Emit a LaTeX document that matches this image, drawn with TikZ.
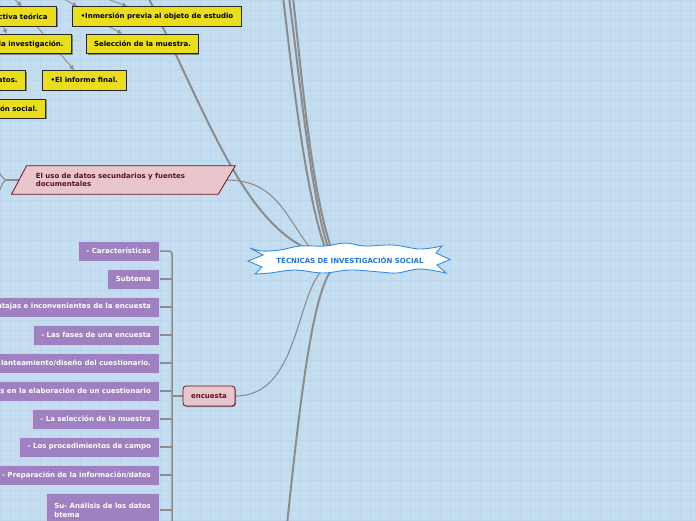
\documentclass[tikz,border=0pt]{standalone}
\usepackage{fontspec}
\setmainfont{DejaVu Sans}
\usetikzlibrary{arrows.meta,shadows,calc}
\pgfdeclarelayer{back}
\pgfdeclarelayer{lines}
\pgfdeclarelayer{shapes}
\pgfsetlayers{back,lines,shapes,main}
\definecolor{bgc}{RGB}{196,222,240}
\definecolor{gridc}{RGB}{188,215,236}
\definecolor{conn}{RGB}{140,140,140}
\definecolor{yfill}{RGB}{233,221,28}
\definecolor{pfill}{RGB}{159,128,192}
\definecolor{pborder}{RGB}{214,204,228}
\definecolor{kfill}{RGB}{232,198,204}
\definecolor{kborder}{RGB}{110,16,32}
\definecolor{ktext}{RGB}{92,16,32}
\definecolor{cblue}{RGB}{30,120,220}
\definecolor{sblue}{RGB}{50,140,230}
\tikzset{
  ft/.style={font=\fontsize{7}{8.5}\selectfont\bfseries},
  ybox/.style={ft, draw=black!85, line width=0.8pt, fill=yfill, text=black,
    minimum height=19.5pt, inner ysep=0pt,
    drop shadow={shadow xshift=1pt, shadow yshift=-1pt, opacity=0.6, fill=black!70}},
  pbox/.style={ft, draw=pborder, line width=0.8pt, fill=pfill, text=white,
    minimum height=20pt, inner xsep=8pt, inner ysep=0pt, anchor=east,
    drop shadow={shadow xshift=1pt, shadow yshift=-1pt, opacity=0.35, fill=black}},
  kbox/.style={ft, draw=kborder, fill=kfill, text=ktext, line width=0.8pt},
  tconn/.style={draw=conn, line width=2pt},
  nconn/.style={draw=conn, line width=1.1pt},
  arr/.style={draw=conn, line width=0.9pt, -{Latex[length=5pt,width=5pt]}},
  br/.style={draw=conn, line width=1.5pt},
}
\begin{document}
\begin{tikzpicture}[x=1pt, y=-1pt]
\useasboundingbox (0,0) rectangle (696,520);
\clip (0,0) rectangle (696,520);
\begin{pgfonlayer}{back}
  \fill[bgc] (0,0) rectangle (696,520);
  \foreach \i in {0,10,...,690} \draw[draw=gridc, line width=0.6pt] (\i,0) -- (\i,520);
  \foreach \j in {0,10,...,520} \draw[draw=gridc, line width=0.6pt] (0,\j) -- (696,\j);
\end{pgfonlayer}

% central node
\node[ft, text=cblue, minimum width=200pt, minimum height=30pt, inner sep=0pt] (c) at (350,260) {TÉCNICAS DE INVESTIGACIÓN SOCIAL};
\begin{pgfonlayer}{shapes}
  \draw[draw=sblue, line width=0.9pt, fill=white]
    (250,248) -- plot[smooth, tension=0.6] coordinates {(250,248) (262,251) (280,250) (300,246) (325,246) (345,243) (365,246) (393,245) (420,249) (442,246)}
    -- (436,253) -- (450,259.5) -- (437,265) -- (446,273)
    -- plot[smooth, tension=0.6] coordinates {(446,273) (420,269) (397,273) (380,272) (350,270) (323,273) (295,270) (270,273) (255,274)}
    -- (262,267) -- (248,261) -- (263,255) -- cycle;
\end{pgfonlayer}

% yellow boxes
\node[ybox, anchor=east, inner xsep=9pt] (ya) at (57,16.5) {ctiva teórica};
\node[ybox, minimum width=168.3pt] (yb) at (157,16.5) {•Inmersión previa al objeto de estudio};
\node[ybox, anchor=east, inner xsep=8pt] (yc) at (72,44) {la investigación.};
\node[ybox, minimum width=111.6pt] (yd) at (142.5,44) {Selección de la muestra.};
\node[ybox, anchor=east, inner xsep=8pt] (ye) at (26,80.3) {atos.};
\node[ybox, minimum width=83.3pt] (yf) at (84.3,80.3) {•El informe final.};
\node[ybox, anchor=east, inner xsep=8pt] (yg) at (46,108.7) {ión social.};

% pink parallelogram
\node[ft, text=ktext, minimum width=223.3pt, minimum height=28pt, text width=175pt, align=left, inner sep=0pt] (p) at (123.4,180) {El uso de datos secundarios y fuentes\\documentales};
\begin{pgfonlayer}{shapes}
  \draw[kbox] (p.south west) -- ($(p.north west)+(15,0)$) -- (p.north east) -- ($(p.south east)+(-17,0)$) -- cycle;
\end{pgfonlayer}

% encuesta
\node[kbox, rounded corners=3pt, minimum width=52pt, minimum height=20pt, inner sep=0pt,
  drop shadow={shadow xshift=1pt, shadow yshift=-1pt, opacity=0.4, fill=black}] (e) at (209,396) {encuesta};

% purple boxes
\node[pbox] (p1) at (159.3,251) {- Características};
\node[pbox] (p2) at (159.3,279) {Subtema};
\node[pbox] (p3) at (159.3,307) {ntajas e inconvenientes de la encuesta};
\node[pbox] (p4) at (159.3,335) {- Las fases de una encuesta};
\node[pbox] (p5) at (159.3,363) {lanteamiento/diseño del cuestionario.};
\node[pbox] (p6) at (159.3,391) {es en la elaboración de un cuestionario};
\node[pbox] (p7) at (159.3,419) {- La selección de la muestra};
\node[pbox] (p8) at (159.3,447) {- Los procedimientos de campo};
\node[pbox] (p9) at (159.3,475) {- Preparación de la información/datos};
\node[pbox, minimum height=34pt, align=left] (p10) at (159.3,510) {Su- Análisis de los datos\\btema};

% named free ends
\coordinate (t1) at (283,-3);
\coordinate (t2) at (289,-3);
\coordinate (t3) at (293,-3);
\coordinate (t4) at (147,-5);
\coordinate (t5) at (287,525);
\coordinate (o1) at (12,-3);
\coordinate (o2) at (60,-3);
\coordinate (o3) at (102,-3);
\coordinate (pj) at (7,180);
\coordinate (l1) at (-1,172);
\coordinate (l2) at (-1,192);
\coordinate (vb) at (172,0);
\coordinate (vbe) at (172,530);

\begin{pgfonlayer}{lines}
  % to the centre
  \draw[tconn] (t1) .. controls (293,80) and (305,190) .. ($(c.north)+(-25,3)$);
  \draw[tconn] (t2) .. controls (300,80) and (310,190) .. ($(c.north)+(-22,3)$);
  \draw[tconn] (t3) .. controls (303,90) and (312,190) .. ($(c.north)+(-19,3)$);
  \draw[tconn] (t4) .. controls (205,110) and (240,215) .. ($(c.north)+(-45,3)$);
  \draw[nconn] ($(p.east)+(-8.5,0)$) .. controls (275,180) and (285,215) .. ($(c.north)+(-40,3)$);
  \draw[nconn] (e.east) .. controls (298,396) and (295,300) .. ($(c.south)+(-28,-5)$);
  \draw[tconn] ($(c.south)+(-20,-3)$) .. controls (312,300) and (300,400) .. (t5);
  % yellow arrows
  \draw[arr] (o1) -- ($(ya.north east)+(-35,0)$);
  \draw[arr] (o2) -- ($(yb.north west)+(5,0)$);
  \draw[arr] (o3) -- ($(yb.north west)+(55,0)$);
  \draw[arr] ($(ya.south east)+(-54,0)$) -- ($(yc.north east)+(-65,0)$);
  \draw[arr] ($(yb.south west)+(37,0)$) -- ($(yd.north west)+(36,0)$);
  \draw[arr] ($(ya.south east)+(-20,0)$) -- ($(yf.north west)+(32,0)$);
  % left branch of the parallelogram
  \draw[nconn] ($(p.west)+(7.5,0)$) -- (pj);
  \draw[nconn] (pj) .. controls (4,180) and (2,177) .. (l1);
  \draw[nconn] (pj) .. controls (4,180) and (2,184) .. (l2);
  % bracket
  \draw[br, rounded corners=3pt] (p1.east) -| (vbe);
  \foreach \n in {p2,p3,p4,p5,p6,p7,p8,p9,p10} \draw[br] (\n.east) -- (\n.east -| vb);
  \draw[br] (e.west) -- (e.west -| vb);
\end{pgfonlayer}
\end{tikzpicture}
\end{document}
